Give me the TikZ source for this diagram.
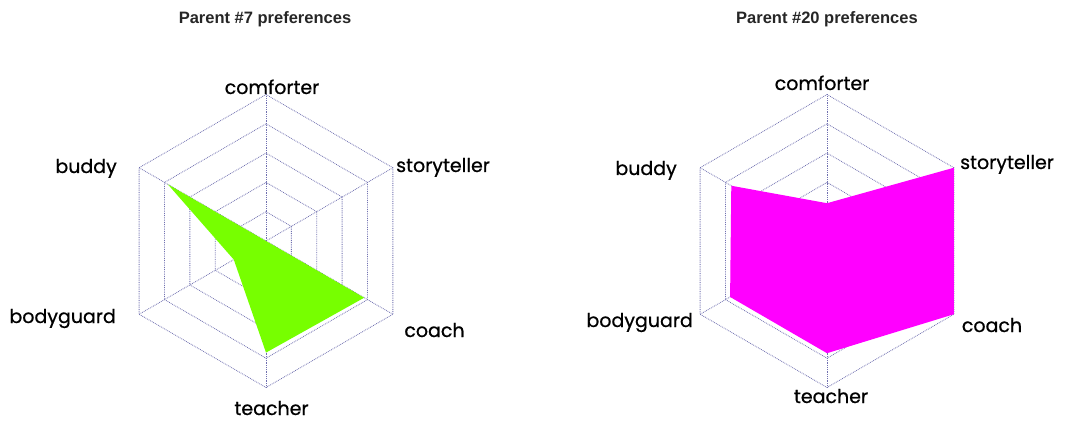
\documentclass[tikz,border=0pt]{standalone}
\usepackage{fontspec}
\setmainfont{Poppins}
\newfontfamily\labelfamily{Poppins}[FakeBold=0.7]
\newfontfamily\titlefamily{Liberation Sans}
\definecolor{GridBlue}{HTML}{7070B0}
\definecolor{PrefGreen}{HTML}{77FF00}
\definecolor{PrefMagenta}{HTML}{FF00FF}
\usepackage{tikz}
\usetikzlibrary{positioning}

\begin{document}
\begin{tikzpicture}[x=1pt,y=1pt,
        grid/.style={GridBlue,densely dotted,line width=0.8pt},
        axislabel/.style={font=\labelfamily\fontsize{19}{22}\selectfont,text=black,
                          inner sep=0pt,anchor=base},
        charttitle/.style={font=\titlefamily\bfseries\fontsize{16.5}{19}\selectfont,
                           text=black!85,inner sep=0pt,anchor=base}]

        \useasboundingbox (0,0) rectangle (1074,421);
        \fill[white] (0,0) rectangle (1074,421);

        % Parent #7
        \node[charttitle] (t7) at (265,397) {Parent \#7 preferences};
        \begin{scope}[shift={(266,180)}]
          \coordinate (c7) at (0,0);
          \foreach \r in {29.3,58.6,87.9,117.2,146.5}{
            \draw[grid] (90:\r) -- (30:\r) -- (-30:\r) -- (-90:\r)
                        -- (-150:\r) -- (150:\r) -- cycle;
          }
          \foreach \a in {90,30,-30,-90,-150,150}{
            \draw[grid] (c7) -- (\a:146.5);
          }
          \fill[PrefGreen] (90:0) -- (30:0) -- (-30:113.4) -- (-90:111.6)
                           -- (-150:37.2) -- (150:113.4) -- cycle;
        \end{scope}
        \node[axislabel]                  (com7) at (272,327) {comforter};
        \node[axislabel,anchor=base west] (sto7) at (396,249) {storyteller};
        \node[axislabel]                  (coa7) at (434.5,84) {coach};
        \node[axislabel]                  (tea7) at (271.5,6)  {teacher};
        \node[axislabel,anchor=base east] (bod7) at (116,98)  {bodyguard};
        \node[axislabel,anchor=base east] (bud7) at (117,248) {buddy};

        % Parent #20
        \node[charttitle] (t20) at (827,397) {Parent \#20 preferences};
        \begin{scope}[shift={(827,180)}]
          \coordinate (c20) at (0,0);
          \foreach \r in {29.3,58.6,87.9,117.2,146.5}{
            \draw[grid] (90:\r) -- (30:\r) -- (-30:\r) -- (-90:\r)
                        -- (-150:\r) -- (150:\r) -- cycle;
          }
          \foreach \a in {90,30,-30,-90,-150,150}{
            \draw[grid] (c20) -- (\a:146.5);
          }
          \fill[PrefMagenta] (90:37.8) -- (30:146.5) -- (-30:146.5) -- (-90:112.2)
                             -- (-150:111.9) -- (150:110.5) -- cycle;
        \end{scope}
        \node[axislabel]                  (com20) at (822,331) {comforter};
        \node[axislabel,anchor=base west] (sto20) at (960,252) {storyteller};
        \node[axislabel]                  (coa20) at (992,89)  {coach};
        \node[axislabel]                  (tea20) at (831,18)  {teacher};
        \node[axislabel,anchor=base east] (bod20) at (693,94)  {bodyguard};
        \node[axislabel,anchor=base east] (bud20) at (677,246) {buddy};
      \end{tikzpicture}
\end{document}
